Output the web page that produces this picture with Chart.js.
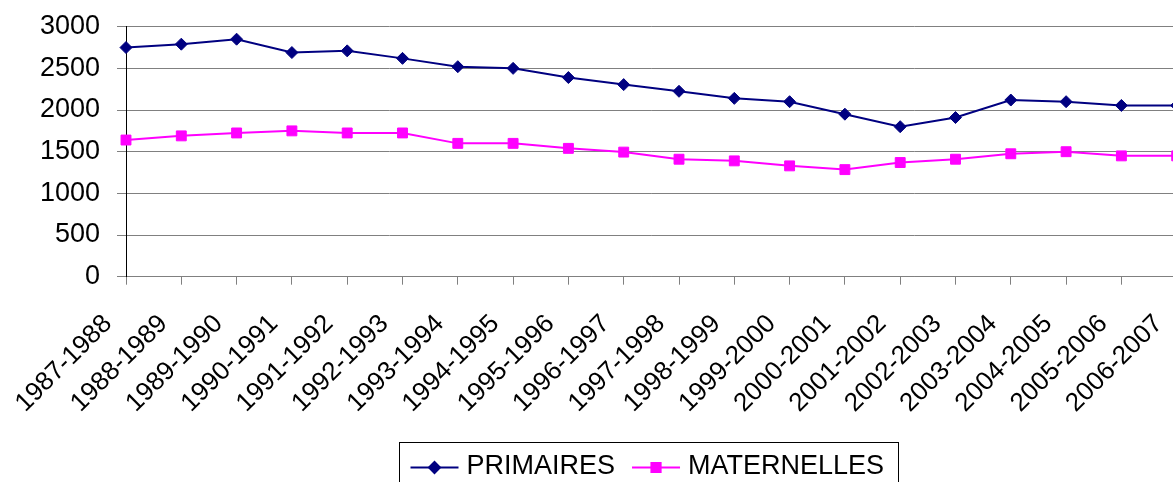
<!DOCTYPE html>
<html>
<head>
<meta charset="utf-8">
<script src="https://cdn.jsdelivr.net/npm/chart.js@4/dist/chart.umd.min.js"></script>
<style>
  html, body { margin: 0; padding: 0; background: #fff; overflow: hidden; }
  #wrap { position: relative; width: 1199px; height: 482px; }
  #c { display: block; }
</style>
</head>
<body>
<div id="wrap"><canvas id="c" width="1199" height="482"></canvas></div>
<script>
// School years on the horizontal axis
const categories = [
  '1987-1988', '1988-1989', '1989-1990', '1990-1991', '1991-1992',
  '1992-1993', '1993-1994', '1994-1995', '1995-1996', '1996-1997',
  '1997-1998', '1998-1999', '1999-2000', '2000-2001', '2001-2002',
  '2002-2003', '2003-2004', '2004-2005', '2005-2006', '2006-2007'
];

// Enrolment per school year
const primaires = [
  2750, 2790, 2850, 2690, 2710, 2620, 2520, 2500, 2390, 2305,
  2225, 2140, 2100, 1950, 1800, 1910, 2120, 2100, 2055, 2055
];
const maternelles = [
  1640, 1690, 1725, 1750, 1725, 1725, 1600, 1600, 1540, 1495,
  1410, 1390, 1330, 1285, 1370, 1410, 1475, 1500, 1450, 1450
];

// Vertical axis ticks
const yTicks = [0, 500, 1000, 1500, 2000, 2500, 3000];

const FONT = 'Liberation Sans, Arial, sans-serif';
const AXIS_X_SIZE = 26;
const AXIS_Y_SIZE = 27;
const LEGEND_SIZE = 27;

// Boxed legend below the axis: line sample with marker, then the label
const boxedLegend = {
  id: 'boxedLegend',
  afterDraw(chart) {
    const ctx = chart.ctx;
    const left = 399.5, top = 442.5, height = 60;
    const padL = 11, padR = 14, lineLen = 48, gap = 8, itemGap = 17;
    const cy = 467.5;
    ctx.save();
    ctx.font = LEGEND_SIZE + 'px ' + FONT;
    const items = chart.data.datasets.map(ds => ({
      ds, w: ctx.measureText(ds.label).width
    }));
    let total = padL + padR;
    items.forEach((it, i) => {
      total += lineLen + gap + it.w + (i < items.length - 1 ? itemGap : 0);
    });
    ctx.strokeStyle = '#000';
    ctx.lineWidth = 1;
    ctx.strokeRect(left, top, Math.round(total), height);

    let x = left + padL;
    items.forEach((it) => {
      const ds = it.ds;
      ctx.strokeStyle = ds.borderColor;
      ctx.lineWidth = 2;
      ctx.beginPath();
      ctx.moveTo(x, cy);
      ctx.lineTo(x + lineLen, cy);
      ctx.stroke();
      ctx.fillStyle = ds.pointBackgroundColor;
      ctx.strokeStyle = ds.pointBorderColor;
      Chart.helpers.drawPoint(ctx, {
        pointStyle: ds.pointStyle,
        radius: ds.legendRadius,
        borderWidth: 1
      }, x + lineLen / 2, cy);
      x += lineLen + gap;
      ctx.fillStyle = '#000';
      ctx.textAlign = 'left';
      ctx.textBaseline = 'middle';
      ctx.fillText(ds.label, x, cy - 1);
      x += it.w + itemGap;
    });
    ctx.restore();
  }
};

new Chart(document.getElementById('c'), {
  type: 'line',
  data: {
    labels: categories,
    datasets: [
      {
        label: 'PRIMAIRES',
        data: primaires,
        borderColor: '#000080',
        backgroundColor: '#000080',
        pointBackgroundColor: '#000080',
        pointBorderColor: '#000080',
        borderWidth: 2,
        pointStyle: 'rectRot',
        pointRadius: 6,
        pointHoverRadius: 6,
        pointBorderWidth: 1,
        legendRadius: 5.5,
        tension: 0
      },
      {
        label: 'MATERNELLES',
        data: maternelles,
        borderColor: '#FF00FF',
        backgroundColor: '#FF00FF',
        pointBackgroundColor: '#FF00FF',
        pointBorderColor: '#FF00FF',
        borderWidth: 2,
        pointStyle: 'rect',
        pointRadius: 7,
        pointHoverRadius: 7,
        pointBorderWidth: 1,
        legendRadius: 6.5,
        tension: 0
      }
    ]
  },
  options: {
    responsive: false,
    maintainAspectRatio: false,
    animation: false,
    devicePixelRatio: 1,
    layout: { padding: { top: 26.7, right: 22.3, bottom: 0, left: 0 } },
    plugins: {
      legend: { display: false },
      tooltip: { enabled: false },
      title: { display: false }
    },
    scales: {
      x: {
        type: 'category',
        offset: false,
        afterFit(scale) {
          scale.height = 205.3;
          scale.paddingLeft = 0;
          scale.paddingRight = 0;
        },
        grid: {
          drawOnChartArea: false,
          drawTicks: true,
          tickLength: 8,
          color: '#808080',
          lineWidth: 1
        },
        border: { color: '#808080', width: 1 },
        ticks: {
          autoSkip: false,
          maxRotation: 45,
          minRotation: 45,
          padding: 24,
          labelOffset: -18,
          color: '#000',
          font: { family: FONT, size: AXIS_X_SIZE }
        }
      },
      y: {
        min: 0,
        max: 3000,
        afterFit(scale) {
          scale.width = 126;
          scale.paddingTop = 0;
          scale.paddingBottom = 0;
        },
        afterBuildTicks(scale) { scale.ticks = yTicks.map(v => ({ value: v })); },
        grid: {
          color: '#808080',
          lineWidth: 1,
          tickLength: 9
        },
        border: { color: '#000', width: 1 },
        ticks: {
          padding: 17,
          color: '#000',
          font: { family: FONT, size: AXIS_Y_SIZE },
          callback: (v) => String(v)
        }
      }
    }
  },
  plugins: [boxedLegend]
});
</script>
</body>
</html>
